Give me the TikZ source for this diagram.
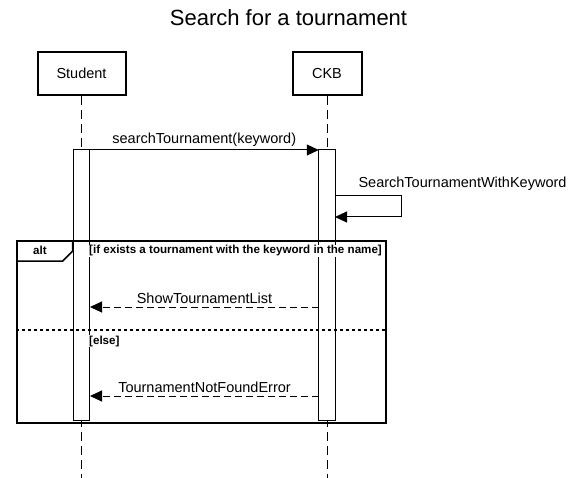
\documentclass[tikz,border=0pt]{standalone}
\usepackage{fontspec}
\setmainfont{Liberation Sans}
\usetikzlibrary{arrows.meta}

\begin{document}
\begin{tikzpicture}[x=1pt, y=-1pt]
    % ===================================
    % 設定
    % ===================================
    \def\xs{81.5}  % Student の生存線の x
    \def\xc{327}   % CKB の生存線の x
    \def\ya{150}   % 活性区間の上端
    \def\yb{420}   % 活性区間の下端

    \tikzset{
        actor/.style={draw, line width=2pt, minimum height=43pt, inner sep=0pt,
                      font=\fontsize{14.5}{16}\selectfont},
        life/.style={line width=1pt, dash pattern=on 9pt off 5pt},
        act/.style={draw, fill=white, line width=1pt, minimum width=16.5pt,
                    minimum height=\yb-\ya, inner sep=0pt, outer sep=0pt},
        msg/.style={line width=1pt, -{Triangle[length=12pt, width=11pt]}},
        ret/.style={msg, dash pattern=on 7pt off 4pt},
        lbl/.style={font=\fontsize{14.5}{16}\selectfont},
        guard/.style={font=\bfseries\fontsize{11.6}{13}\selectfont, fill=white, inner sep=1pt}
    }
    % ===================================

    \useasboundingbox (0,0) rectangle (575,478);

    % タイトル
    \node[font=\fontsize{22}{26}\selectfont] (title) at (288.5,18) {Search for a tournament};

    % 1. 登場人物と生存線
    \node[actor, minimum width=88pt] (st) at (\xs,73.5) {Student};
    \node[actor, minimum width=69pt] (ckb) at (\xc,73.5) {CKB};

    \coordinate (stend) at (\xs,478);
    \coordinate (ckbend) at (\xc,478);
    \draw[life] (st) -- (stend);
    \draw[life] (ckb) -- (ckbend);

    % 2. 活性区間
    \node[act] (sa) at (\xs,{(\ya+\yb)/2}) {};
    \node[act] (ca) at (\xc,{(\ya+\yb)/2}) {};

    % 3. 呼び出しと自己呼び出し
    \draw[msg] (sa.north east) -- node[lbl, above] {searchTournament(keyword)} (ca.north west);

    \coordinate (k1) at (335,196);
    \coordinate (k2) at (335,217);
    \draw[msg] (k1) -- ++(66,0) |- (k2);
    \node[lbl, anchor=west] (kw) at (355,184) {SearchTournamentWithKeyword};

    % 4. alt フレーム
    \node[draw, line width=2pt, minimum width=369pt, minimum height=181pt,
          inner sep=0pt, anchor=north west] (alt) at (16,240.5) {};
    \coordinate (t1) at (16,261);
    \coordinate (t2) at (72.7,241);
    \draw[line width=1.5pt] (t1) -- (62.7,261) -- (72.7,251) -- (t2);
    \node[font=\bfseries\fontsize{11.6}{13}\selectfont] (altlbl) at (40,250.5) {alt};
    \node[guard, anchor=west] (g1) at (88,251) {[if exists a tournament with the keyword in the name]};

    % 区切り線
    \coordinate (sepl) at (16,330);
    \coordinate (sepr) at (385,330);
    \draw[line width=2pt, dash pattern=on 3pt off 3pt] (sepl) -- (sepr);
    \node[guard, anchor=west] (g2) at (88,341) {[else]};

    % 5. 応答
    \coordinate (r1c) at (319,307);
    \coordinate (r1s) at (90,307);
    \draw[ret] (r1c) -- node[lbl, above] {ShowTournamentList} (r1s);

    \coordinate (r2c) at (319,396);
    \coordinate (r2s) at (90,396);
    \draw[ret] (r2c) -- node[lbl, above] {TournamentNotFoundError} (r2s);

\end{tikzpicture}
\end{document}
